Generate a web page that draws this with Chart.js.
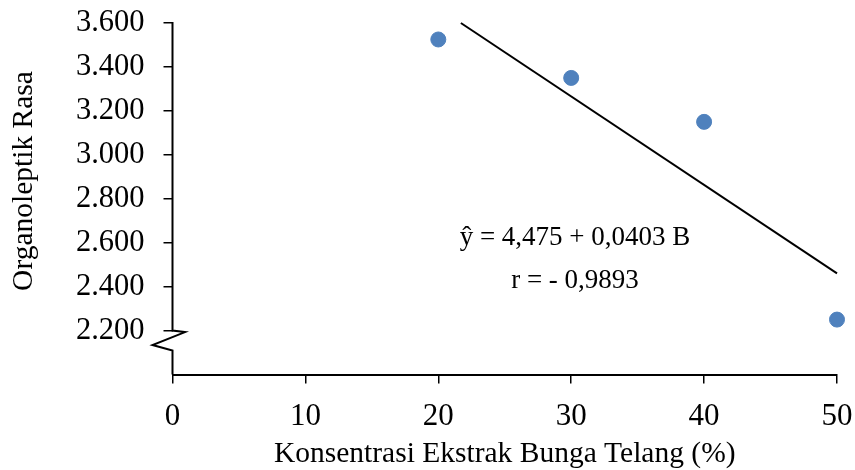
<!DOCTYPE html>
<html>
<head>
<meta charset="utf-8">
<script src="https://cdn.jsdelivr.net/npm/chart.js@4.4.0/dist/chart.umd.min.js"></script>
<style>
html,body{margin:0;padding:0;background:#fff;}
#wrap{width:855px;height:470px;position:relative;}
</style>
</head>
<body>
<div id="wrap"><canvas id="c" width="855" height="470"></canvas></div>
<script>
// ---- data ----
const concentrations = [20, 30, 40, 50];
const tasteScores = [3.525, 3.35, 3.15, 2.25];
const trendX = [21.7, 50];
const trendY = [3.6, 2.46];
const xTickValues = [0, 10, 20, 30, 40, 50];
const yTickValues = [2.2, 2.4, 2.6, 2.8, 3.0, 3.2, 3.4, 3.6];
const equationText = 'ŷ = 4,475 + 0,0403 B';
const rText = 'r = - 0,9893';
const xTitle = 'Konsentrasi Ekstrak Bunga Telang (%)';
const yTitle = 'Organoleptik Rasa';

const FONT = '"Liberation Serif", "Times New Roman", serif';

const pointData = concentrations.map((x, i) => ({x: x, y: tasteScores[i]}));
const trendData = trendX.map((x, i) => ({x: x, y: trendY[i]}));

const overlay = {
  id: 'overlay',
  afterDraw(chart) {
    const ctx = chart.ctx;
    const xs = chart.scales.x, ys = chart.scales.y;
    const ca = chart.chartArea;
    const x0 = xs.getPixelForValue(0);
    const yTop = ys.getPixelForValue(yTickValues[yTickValues.length - 1]);
    const yBreak = ys.getPixelForValue(yTickValues[0]);
    ctx.save();
    // y axis line with break symbol
    ctx.strokeStyle = '#000';
    ctx.lineWidth = 2;
    ctx.lineJoin = 'miter';
    ctx.beginPath();
    ctx.moveTo(x0, yTop - 1);
    ctx.lineTo(x0, yBreak);
    ctx.lineTo(x0 + 12.5, yBreak + 1.5);
    ctx.lineTo(x0 - 20, yBreak + 14.5);
    ctx.lineTo(x0, yBreak + 20);
    ctx.lineTo(x0, ca.bottom);
    ctx.stroke();
    // y title
    ctx.fillStyle = '#000';
    ctx.font = '29.5px ' + FONT;
    ctx.textAlign = 'center';
    ctx.textBaseline = 'middle';
    ctx.translate(24, 181);
    ctx.rotate(-Math.PI / 2);
    ctx.fillText(yTitle, 0, 0);
    ctx.restore();
    // regression annotation
    ctx.save();
    ctx.fillStyle = '#000';
    ctx.font = '27px ' + FONT;
    ctx.textAlign = 'center';
    ctx.textBaseline = 'middle';
    ctx.fillText(equationText, 575, 238);
    ctx.fillText(rText, 575, 281);
    ctx.restore();
  }
};

new Chart(document.getElementById('c'), {
  type: 'scatter',
  data: {
    datasets: [
      {
        label: 'Organoleptik Rasa',
        data: pointData,
        backgroundColor: '#4F81BD',
        borderColor: '#4F81BD',
        pointRadius: 7.5,
        pointHoverRadius: 7.5,
        showLine: false,
        clip: false
      },
      {
        label: 'Linear',
        data: trendData,
        showLine: true,
        borderColor: '#000',
        borderWidth: 2,
        pointRadius: 0,
        pointHoverRadius: 0,
        fill: false,
        clip: false
      }
    ]
  },
  options: {
    responsive: false,
    devicePixelRatio: 1,
    animation: false,
    layout: {padding: {top: 23, right: 18, left: 0, bottom: 0}},
    plugins: {legend: {display: false}, tooltip: {enabled: false}},
    scales: {
      x: {
        type: 'linear',
        min: 0, max: 50,
        afterBuildTicks: s => { s.ticks = xTickValues.map(v => ({value: v})); },
        ticks: {color: '#000', font: {family: FONT, size: 31}, padding: 15, maxRotation: 0},
        grid: {drawOnChartArea: false, tickLength: 9, color: '#000', lineWidth: 1.5},
        border: {color: '#000', width: 2},
        title: {display: true, text: xTitle, color: '#000', font: {family: FONT, size: 29.5}, padding: {top: 0, bottom: -2}},
        afterFit: s => { s.height = 95.5; s.paddingLeft = 0; s.paddingRight = 0; }
      },
      y: {
        type: 'linear',
        min: 2.0, max: 3.6,
        afterBuildTicks: s => { s.ticks = [{value: 2.0}].concat(yTickValues.map(v => ({value: v}))); },
        ticks: {
          color: '#000', font: {family: FONT, size: 30.5}, padding: 19,
          callback: v => (v < 2.1 ? '' : v.toFixed(3))
        },
        grid: {
          drawOnChartArea: false, tickLength: 9, lineWidth: 1.5,
          color: c => (c.tick && c.tick.value < 2.1 ? 'rgba(0,0,0,0)' : '#000')
        },
        border: {display: false},
        afterFit: s => { s.width = 172.5; s.paddingTop = 0; s.paddingBottom = 0; }
      }
    }
  },
  plugins: [overlay]
});
</script>
</body>
</html>
